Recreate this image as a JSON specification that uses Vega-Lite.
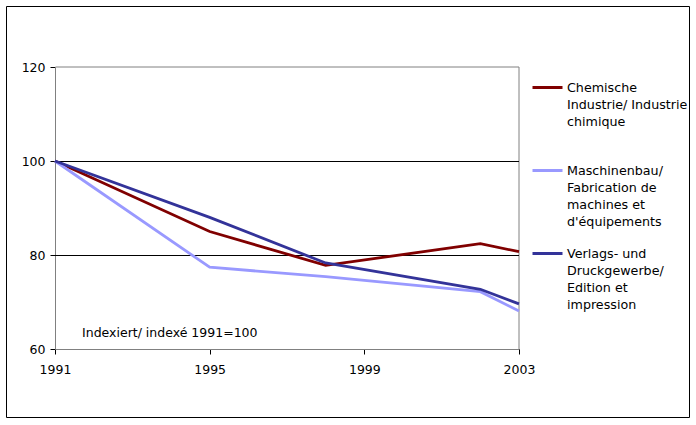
{
  "$schema": "https://vega.github.io/schema/vega-lite/v6.json",
  "width": 683,
  "height": 411,
  "autosize": {"type": "none"},
  "padding": {"left": 6, "top": 6, "right": 7, "bottom": 8},
  "background": "white",
  "config": {
    "font": "DejaVu Sans",
    "view": {"stroke": "black", "strokeWidth": 1},
    "axis": {"labelFont": "DejaVu Sans", "labelFontSize": 12.5, "labelColor": "black", "domainColor": "black", "tickColor": "black", "tickSize": 5, "grid": false, "title": null, "zindex": 1, "labelFlush": false},
    "legend": {"labelFont": "DejaVu Sans", "labelFontSize": 12.7, "labelColor": "black"},
    "style": {"guide-label": {"lineHeight": 17}}
  },
  "datasets": {
    "series": [
      {"year": 1991, "value": 100, "series": "Chemische Industrie/ Industrie chimique"},
      {"year": 1995, "value": 85, "series": "Chemische Industrie/ Industrie chimique"},
      {"year": 1998, "value": 77.8, "series": "Chemische Industrie/ Industrie chimique"},
      {"year": 2002, "value": 82.4, "series": "Chemische Industrie/ Industrie chimique"},
      {"year": 2003, "value": 80.7, "series": "Chemische Industrie/ Industrie chimique"},
      {"year": 1991, "value": 100, "series": "Maschinenbau/ Fabrication de machines et d'équipements"},
      {"year": 1995, "value": 77.4, "series": "Maschinenbau/ Fabrication de machines et d'équipements"},
      {"year": 1998, "value": 75.4, "series": "Maschinenbau/ Fabrication de machines et d'équipements"},
      {"year": 2002, "value": 72.2, "series": "Maschinenbau/ Fabrication de machines et d'équipements"},
      {"year": 2003, "value": 68.1, "series": "Maschinenbau/ Fabrication de machines et d'équipements"},
      {"year": 1991, "value": 100, "series": "Verlags- und Druckgewerbe/ Edition et impression"},
      {"year": 1995, "value": 88, "series": "Verlags- und Druckgewerbe/ Edition et impression"},
      {"year": 1998, "value": 78.3, "series": "Verlags- und Druckgewerbe/ Edition et impression"},
      {"year": 2002, "value": 72.7, "series": "Verlags- und Druckgewerbe/ Edition et impression"},
      {"year": 2003, "value": 69.6, "series": "Verlags- und Druckgewerbe/ Edition et impression"}
    ],
    "grid": [{"level": 80}, {"level": 100}]
  },
  "layer": [
    {
      "data": {"values": [{}]},
      "mark": {"type": "rect", "fill": null, "stroke": "#808080", "strokeWidth": 1, "xOffset": 0.5, "yOffset": 0.5},
      "encoding": {
        "x": {"datum": 1991, "type": "quantitative", "scale": {"domain": [1991, 2003], "range": [49, 513], "zero": false, "nice": false},
              "axis": {"values": [1991, 1995, 1999, 2003], "format": "d", "offset": -68, "labelPadding": 9}},
        "x2": {"datum": 2003},
        "y": {"datum": 60, "type": "quantitative", "scale": {"domain": [60, 120], "range": [343, 61], "zero": false, "nice": false},
              "axis": {"values": [60, 80, 100, 120], "offset": -49, "labelPadding": 5}},
        "y2": {"datum": 120}
      }
    },
    {
      "data": {"name": "grid"},
      "mark": {"type": "rule", "color": "black", "strokeWidth": 1, "yOffset": 0.5},
      "encoding": {
        "y": {"field": "level", "type": "quantitative"},
        "x": {"datum": 1991, "type": "quantitative"},
        "x2": {"datum": 2003}
      }
    },
    {
      "data": {"name": "series"},
      "mark": {"type": "line", "strokeWidth": 2.8},
      "encoding": {
        "x": {"field": "year", "type": "quantitative"},
        "y": {"field": "value", "type": "quantitative"},
        "color": {
          "field": "series", "type": "nominal",
          "scale": {
            "domain": ["Chemische Industrie/ Industrie chimique", "Maschinenbau/ Fabrication de machines et d'équipements", "Verlags- und Druckgewerbe/ Edition et impression"],
            "range": ["#800000", "#9999FF", "#333399"]
          },
          "legend": {
            "title": null,
            "orient": "none",
            "legendX": 525,
            "legendY": 65,
            "padding": 0,
            "symbolType": "stroke",
            "symbolSize": 900,
            "symbolStrokeWidth": 3,
            "labelBaseline": "top",
            "labelOffset": 3,
            "gridAlign": "all",
            "rowPadding": 8,
            "labelLimit": 200,
            "encode": {"labels": {"update": {"dy": {"value": -6}}}},
            "labelExpr": "datum.label == 'Chemische Industrie/ Industrie chimique' ? ['Chemische', 'Industrie/ Industrie', 'chimique', ''] : datum.label == 'Verlags- und Druckgewerbe/ Edition et impression' ? ['Verlags- und', 'Druckgewerbe/', 'Edition et', 'impression'] : ['Maschinenbau/', 'Fabrication de', 'machines et', \"d'équipements\"]"
          }
        }
      }
    },
    {
      "data": {"values": [{}]},
      "mark": {"type": "text", "text": "Indexiert/ indexé 1991=100", "align": "left", "baseline": "middle", "fontSize": 12.5, "font": "DejaVu Sans", "color": "black"},
      "encoding": {
        "x": {"datum": 1991.7, "type": "quantitative"},
        "y": {"datum": 63.4, "type": "quantitative"}
      }
    }
  ]
}
